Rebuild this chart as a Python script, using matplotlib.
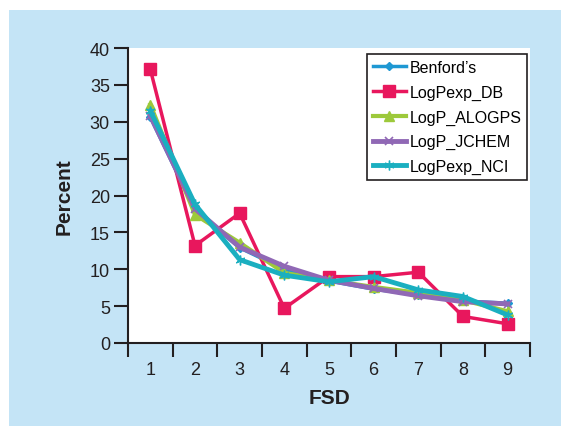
import matplotlib
matplotlib.use("Agg")
import matplotlib.pyplot as plt
from matplotlib.patches import Rectangle

plt.rcParams["font.family"] = ["Liberation Sans", "DejaVu Sans"]

# first significant digit and percent per source
fsd = [1, 2, 3, 4, 5, 6, 7, 8, 9]
benford = [30.6, 18.0, 12.9, 10.0, 8.4, 7.3, 6.5, 5.7, 5.4]
logpexp_db = [37.1, 13.2, 17.6, 4.7, 9.0, 9.0, 9.6, 3.6, 2.6]
logp_alogps = [32.3, 17.4, 13.6, 9.5, 8.5, 7.6, 6.8, 5.8, 4.3]
logp_jchem = [30.8, 18.2, 13.0, 10.4, 8.5, 7.4, 6.4, 5.6, 5.3]
logpexp_nci = [31.5, 18.8, 11.3, 9.2, 8.3, 9.0, 7.2, 6.3, 3.8]

fig = plt.figure(figsize=(5.61, 4.27), dpi=100)
fig.patch.set_facecolor("white")

# light blue panel behind the chart
bg = fig.add_axes([0, 0, 1, 1], zorder=-1)
bg.axis("off")
bg.add_patch(Rectangle((9 / 561, 0), 1, 1 - 11 / 427, transform=bg.transAxes,
                       facecolor="#c4e4f6", edgecolor="none"))

ax = fig.add_axes([128 / 561, 83 / 427, 402 / 561, 295 / 427], zorder=1)
ax.set_facecolor("white")

ax.plot(fsd, benford, color="#1e98d3", lw=2.5, marker="D", ms=4, label="Benford’s")
ax.plot(fsd, logpexp_db, color="#e8175d", lw=2.5, marker="s", ms=8, label="LogPexp_DB")
ax.plot(fsd, logp_alogps, color="#9dc93b", lw=3, marker="^", ms=7, label="LogP_ALOGPS")
ax.plot(fsd, logp_jchem, color="#9068b5", lw=3.5, marker="x", ms=6, mew=1.2, label="LogP_JCHEM")
ax.plot(fsd, logpexp_nci, color="#1aafc0", lw=3.5, marker=(6, 2, 0), ms=7, mew=1.0,
        label="LogPexp_NCI")

ax.set_xlim(0.5, 9.5)
ax.set_ylim(0, 40)
ax.set_yticks(range(0, 41, 5))
ax.set_xticks([x + 0.5 for x in range(0, 10)])
ax.set_xticklabels([])
ax.set_xticks(fsd, minor=True)
ax.set_xticklabels([str(x) for x in fsd], minor=True)
ax.tick_params(axis="x", which="minor", length=0, pad=13, labelsize=13, colors="#231f20")
ax.tick_params(axis="x", which="major", length=10, width=1.5, color="#231f20")
ax.tick_params(axis="y", length=10, width=1.5, pad=3, labelsize=13, colors="#231f20")

for side in ["top", "right"]:
    ax.spines[side].set_visible(False)
for side in ["left", "bottom"]:
    ax.spines[side].set_linewidth(1.5)
    ax.spines[side].set_color("#231f20")

ax.set_ylabel("Percent", fontsize=15, fontweight="bold", labelpad=12, color="#231f20")
ax.set_xlabel("FSD", fontsize=15, fontweight="bold", labelpad=7, color="#231f20")

leg = ax.legend(loc="upper right", bbox_to_anchor=(0.9925, 0.978), fontsize=11.5,
                frameon=True, fancybox=False, handlelength=2.1, handletextpad=0.2,
                borderpad=0.35, labelspacing=0.6, borderaxespad=0, framealpha=1)
leg.get_frame().set_edgecolor("#231f20")
leg.get_frame().set_linewidth(1.2)

fig.savefig("out.png", dpi=100, facecolor=fig.get_facecolor())
